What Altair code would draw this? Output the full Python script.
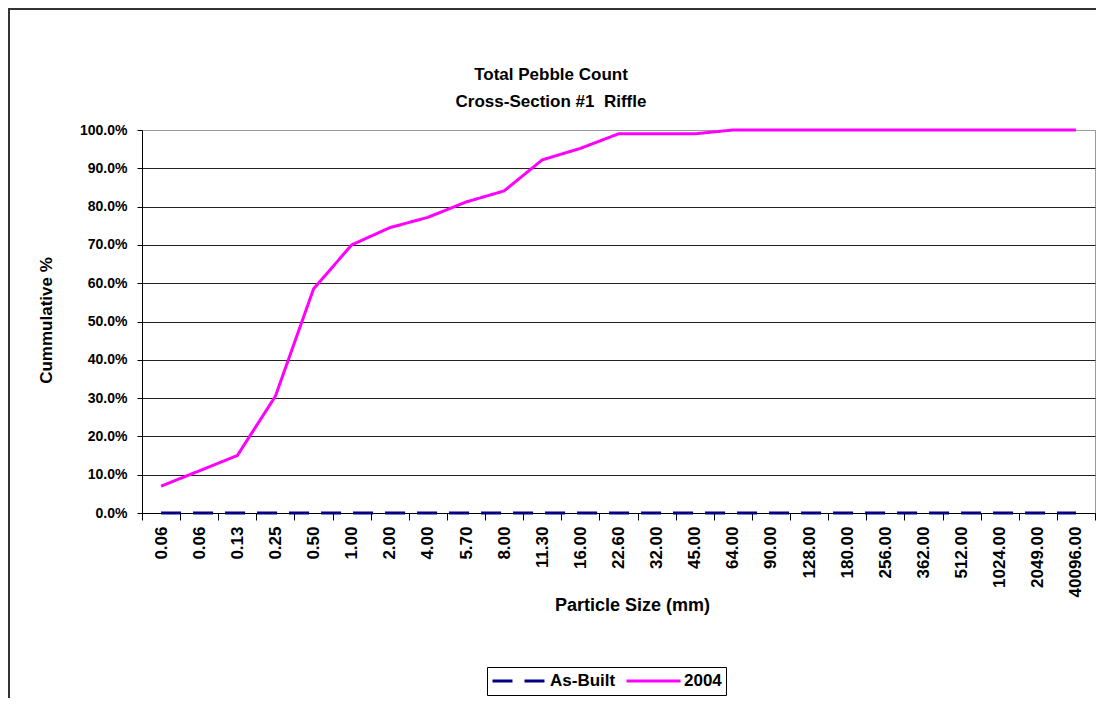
import altair as alt
import pandas as pd

# ---- data ----
size_labels = ["0.06", "0.06", "0.13", "0.25", "0.50", "1.00", "2.00", "4.00",
               "5.70", "8.00", "11.30", "16.00", "22.60", "32.00", "45.00",
               "64.00", "90.00", "128.00", "180.00", "256.00", "362.00",
               "512.00", "1024.00", "2049.00", "40096.00"]
as_built = [0.0, 0.0, 0.0, 0.0, 0.0, 0.0, 0.0, 0.0, 0.0, 0.0, 0.0, 0.0, 0.0,
            0.0, 0.0, 0.0, 0.0, 0.0, 0.0, 0.0, 0.0, 0.0, 0.0, 0.0, 0.0]
y2004 = [0.07, 0.11, 0.15, 0.305, 0.585, 0.70, 0.745, 0.772, 0.812, 0.841,
         0.922, 0.952, 0.99, 0.99, 0.99, 1.0, 1.0, 1.0, 1.0, 1.0, 1.0, 1.0,
         1.0, 1.0, 1.0]
series_names = ["As-Built", "2004"]
y_ticks = [0.0, 0.1, 0.2, 0.3, 0.4, 0.5, 0.6, 0.7, 0.8, 0.9, 1.0]
title_lines = ["Total Pebble Count", "Cross-Section #1\u00a0 Riffle"]

rows = []
for i, lab in enumerate(size_labels):
    rows.append({"idx": i, "size": lab, "series": "As-Built", "value": as_built[i]})
for i, lab in enumerate(size_labels):
    rows.append({"idx": i, "size": lab, "series": "2004", "value": y2004[i]})
df = pd.DataFrame(rows)

FONT = "Liberation Sans"
label_expr = "[" + ",".join("'" + s + "'" for s in size_labels) + "][datum.value]"

W, H = 953, 383

lines = alt.Chart(df).mark_line(strokeWidth=3).encode(
    x=alt.X("idx:O", bandPosition=0.5,
            scale=alt.Scale(type="band", paddingInner=0, paddingOuter=0),
            axis=alt.Axis(title="Particle Size (mm)", labelExpr=label_expr,
                          labelAngle=270, labelAlign="right", labelBaseline="middle",
                          labelFontSize=17, labelFontWeight="bold", labelFont=FONT,
                          labelColor="black", labelPadding=6,
                          tickBand="extent", tickSize=7, tickColor="black",
                          domainColor="black", grid=False,
                          titleFont=FONT, titleFontSize=18, titleFontWeight="bold",
                          titleColor="black", titleX=490, titleY=92,
                          titleAlign="center", titleBaseline="middle")),
    y=alt.Y("value:Q",
            scale=alt.Scale(domain=[0, 1], nice=False, zero=True),
            axis=alt.Axis(title="Cummulative %", values=y_ticks, format=".1%",
                          labelFontSize=14, labelFontWeight="bold", labelFont=FONT,
                          labelColor="black", labelPadding=10,
                          tickSize=5, tickColor="black", domainColor="black",
                          grid=True,
                          gridColor={"condition": {"test": "datum.value >= 1",
                                                   "value": "#9a9a9a"},
                                     "value": "#222222"},
                          titleFont=FONT, titleFontSize=17, titleFontWeight="bold",
                          titleColor="black", titleX=-96, titleY=190,
                          titleAngle=270, titleAlign="center",
                          titleBaseline="middle")),
    color=alt.Color("series:N",
                    scale=alt.Scale(domain=series_names, range=["#000080", "#FF00FF"]),
                    legend=alt.Legend(title=None, orient="none", direction="horizontal",
                                      legendX=345, legendY=537,
                                      symbolType="stroke", symbolSize=2916,
                                      symbolStrokeWidth=3, clipHeight=20,
                                      labelFont=FONT, labelFontSize=17,
                                      labelFontWeight="bold", labelColor="black",
                                      labelOffset=2, columnPadding=9,
                                      padding=4, strokeColor="black",
                                      fillColor="white")),
    strokeDash=alt.StrokeDash("series:N",
                              scale=alt.Scale(domain=series_names,
                                              range=[[20, 12], [1, 0]]),
                              legend=alt.Legend(title=None)),
    order="idx:O",
)

frame = alt.Chart(alt.Data(values=[{}])).mark_rect(
    filled=False, stroke="#333333", strokeWidth=2
).encode(x=alt.value(-133), x2=alt.value(1200), y=alt.value(-121), y2=alt.value(800))

t1 = alt.Chart(alt.Data(values=[{}])).mark_text(
    text=title_lines[0], font=FONT, fontSize=17, fontWeight="bold", color="black",
    align="center", baseline="middle"
).encode(x=alt.value(551 - 142), y=alt.value(75 - 130))

t2 = alt.Chart(alt.Data(values=[{}])).mark_text(
    text=title_lines[1], font=FONT, fontSize=17, fontWeight="bold", color="black",
    align="center", baseline="middle"
).encode(x=alt.value(551 - 142), y=alt.value(102 - 130))

chart = alt.layer(frame, lines, t1, t2).properties(
    width=W, height=H,
    padding={"left": 134, "top": 122, "right": 1, "bottom": 185},
    autosize=alt.AutoSizeParams(type="none"),
    background="white",
).configure_view(stroke="#9a9a9a", strokeWidth=1)

chart.save("out.html", embed_options={"renderer": "svg", "actions": False})
